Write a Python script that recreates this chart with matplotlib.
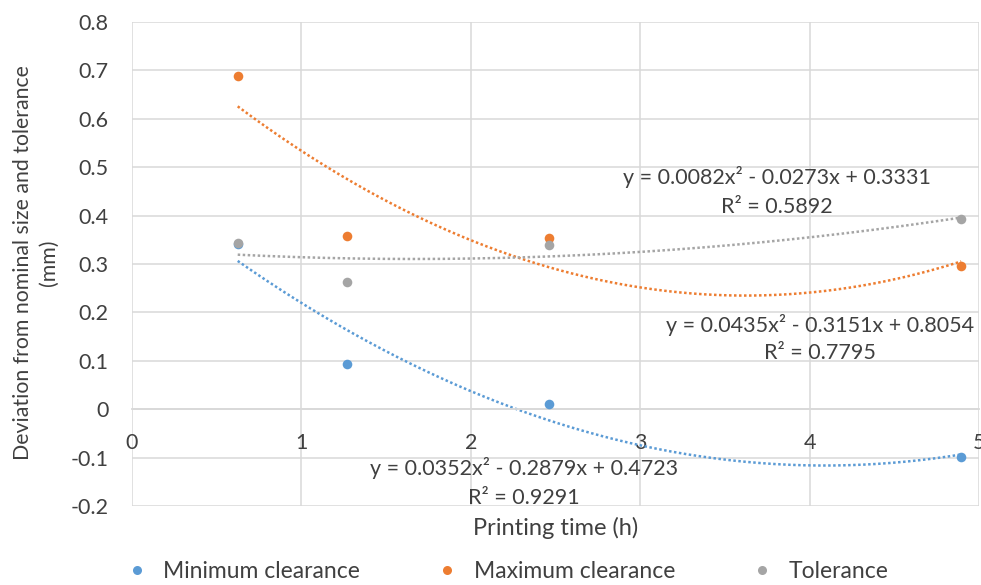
import matplotlib
matplotlib.use("Agg")
import matplotlib.pyplot as plt
from matplotlib.lines import Line2D
import numpy as np

plt.rcParams['font.family'] = ['Lato', 'DejaVu Sans']

# Data
x_vals = [0.624, 1.27, 2.464, 4.895]
min_clearance = [0.342, 0.093, 0.010, -0.098]
max_clearance = [0.689, 0.358, 0.354, 0.296]
tolerance = [0.344, 0.262, 0.340, 0.392]

# Polynomial trendline coefficients (a, b, c) for y = a x^2 + b x + c
min_coef = [0.0352, -0.2879, 0.4723]
max_coef = [0.0435, -0.3151, 0.8054]
tol_coef = [0.0082, -0.0273, 0.3331]

min_eq = ["y = 0.0352x² - 0.2879x + 0.4723", "R² = 0.9291"]
max_eq = ["y = 0.0435x² - 0.3151x + 0.8054", "R² = 0.7795"]
tol_eq = ["y = 0.0082x² - 0.0273x + 0.3331", "R² = 0.5892"]

series_names = ["Minimum clearance", "Maximum clearance", "Tolerance"]
colors = ["#5B9BD5", "#ED7D31", "#A5A5A5"]

x_ticks = [0, 1, 2, 3, 4, 5]
y_ticks = [-0.2, -0.1, 0, 0.1, 0.2, 0.3, 0.4, 0.5, 0.6, 0.7, 0.8]

TXT = "#404040"

fig = plt.figure(figsize=(9.81, 5.85), dpi=100)
ax = fig.add_axes([132/981, 1-506/585, (979-132)/981, (506-22)/585])
ax.set_xlim(0, 5)
ax.set_ylim(-0.2, 0.8)

grid_c = "#D9D9D9"
ax.set_xticks(x_ticks)
ax.set_yticks(y_ticks)
ax.grid(True, color=grid_c, linewidth=1.1)
ax.set_axisbelow(True)
for s in ['top', 'right', 'left']:
    ax.spines[s].set_visible(False)
ax.spines['bottom'].set_position(('data', 0))
ax.spines['bottom'].set_color(grid_c)
ax.spines['bottom'].set_linewidth(1.3)
ax.tick_params(axis='both', length=0, labelsize=15.5, colors=TXT)
ax.tick_params(axis='y', pad=17)
ax.tick_params(axis='x', pad=17)
ax.yaxis.set_major_formatter(matplotlib.ticker.FuncFormatter(
    lambda v, p: "0" if abs(v) < 1e-9 else f"{v:.1f}"))
ax.xaxis.set_major_formatter(matplotlib.ticker.FuncFormatter(lambda v, p: f"{int(round(v))}"))

all_y = [min_clearance, max_clearance, tolerance]
all_coef = [min_coef, max_coef, tol_coef]
xs = np.linspace(min(x_vals), max(x_vals), 300)
for ys, coef, c in zip(all_y, all_coef, colors):
    yt = np.polyval(coef, xs)
    ax.plot(xs, yt, color=c, linewidth=1.8, linestyle=(0, (1.0, 1.0)),
            dash_capstyle='butt', zorder=2)
for ys, c in zip(all_y, colors):
    ax.scatter(x_vals, ys, s=48, color=c, zorder=3, linewidths=0)

def put(xpix, ypix, txt, fs=15.5):
    fig.text(xpix/981, 1 - ypix/585, txt, ha='center', va='center', fontsize=fs, color=TXT)

put(777, 177, tol_eq[0]); put(777, 207, tol_eq[1])
put(820, 325, max_eq[0]); put(820, 353, max_eq[1])
put(524, 468, min_eq[0]); put(524, 498, min_eq[1])

fig.text(556/981, 1 - 528/585, "Printing time (h)", ha='center', va='center', fontsize=17, color=TXT)
fig.text(36/981, 1 - 263/585, "Deviation from nominal size and tolerance\n(mm)", ha='center', va='center',
         rotation=90, fontsize=15.3, color=TXT, linespacing=1.4)

handles = [Line2D([], [], marker='o', linestyle='none', color=c, markersize=6.5, markeredgewidth=0) for c in colors]
fig.legend(handles, series_names, loc='center', bbox_to_anchor=(508/981, 1 - 572/585), ncol=3, frameon=False,
           fontsize=16.5, handlelength=0.8, handletextpad=0.75, columnspacing=3.4, labelcolor=TXT)

fig.savefig("out.png", dpi=100)
